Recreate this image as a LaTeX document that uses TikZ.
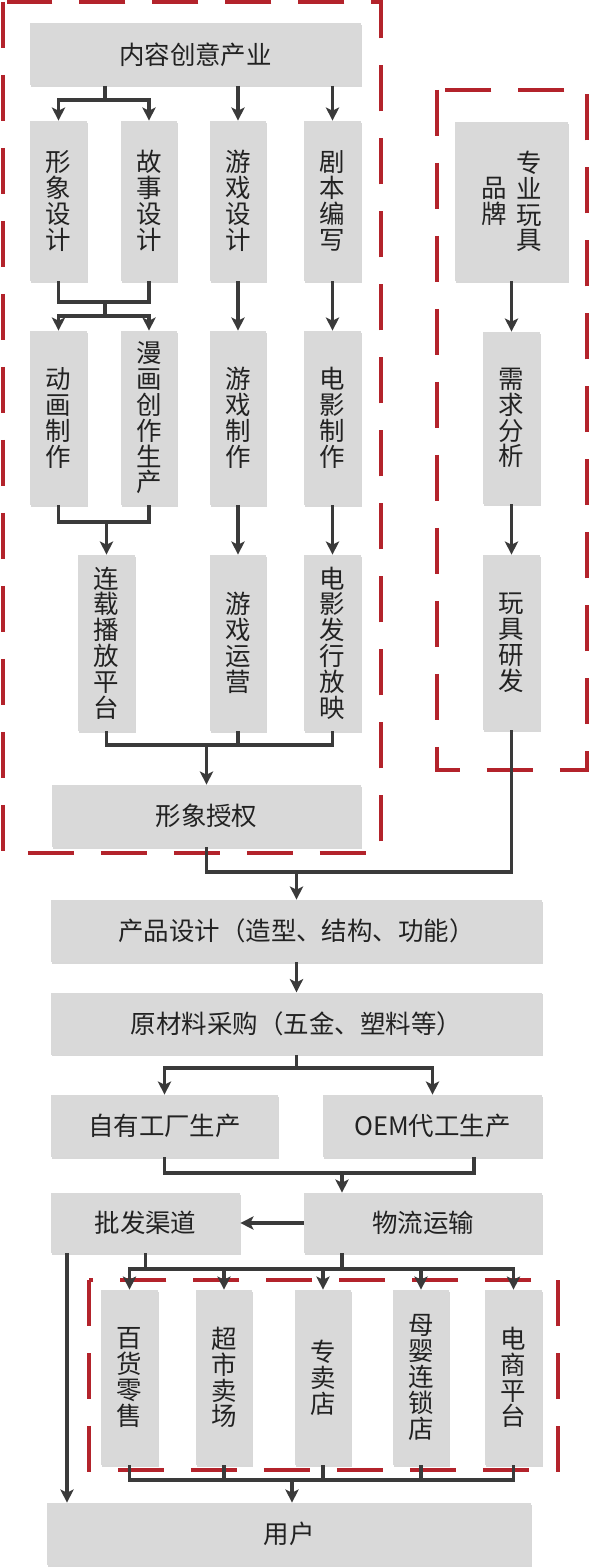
\documentclass[tikz,border=0pt]{standalone}
\usepackage{fontspec}
\setmainfont{Noto Sans CJK SC}
\usetikzlibrary{positioning}
\usetikzlibrary{calc}
\usetikzlibrary{shadows}
\usetikzlibrary{arrows.meta}
\definecolor{boxgray}{HTML}{D9D9D9}
\definecolor{txt}{HTML}{222222}
\definecolor{lncol}{HTML}{3A3A3A}
\definecolor{grpred}{HTML}{B3232B}
\newcommand{\zh}{\fontsize{14.5}{14.7}\selectfont}
\tikzset{bx/.style={fill=boxgray,text=txt,font=\zh,inner sep=0pt,drop shadow={shadow xshift=0.7pt,shadow yshift=-0.9pt,opacity=0.3}}}
\tikzset{vb/.style={bx,minimum width=1.13cm,align=center}}
\tikzset{hb/.style={bx,minimum height=1.24cm}}
\tikzset{ln/.style={draw=lncol,line width=1.8pt}}
\tikzset{grp/.style={draw=grpred,line width=2.2pt,dash pattern=on 0.92cm off 0.54cm}}
\tikzset{>={Stealth[length=7.5pt,width=7.5pt,inset=1.8pt]}}

\begin{document}
\begin{tikzpicture}[x=0.02cm,y=-0.02cm]
\path[use as bounding box,fill=white] (0,0) rectangle (592,1567);

\draw[grp] (3,2) rectangle (381,853);
\draw[grp] (437,90) rectangle (587,770);
\draw[grp] (89,1280) rectangle (558,1470);

\node[hb,minimum width=6.62cm] (nr) at (195.5,54.5) {内容创意产业};
\node[vb,minimum height=3.2cm] (xx) at (58.5,201) {形\\象\\设\\计};
\node[vb,minimum height=3.2cm] (gs) at (149,201) {故\\事\\设\\计};
\node[vb,minimum height=3.2cm] (yx) at (238,201) {游\\戏\\设\\计};
\node[vb,minimum height=3.2cm] (jb) at (332.5,201) {剧\\本\\编\\写};

\node[vb,minimum height=3.48cm] (dh) at (58.5,418) {动\\画\\制\\作};
\node[vb,minimum height=3.48cm] (mh) at (149,418) {漫\\画\\创\\作\\生\\产};
\node[vb,minimum height=3.48cm] (yz) at (238,418) {游\\戏\\制\\作};
\node[vb,minimum height=3.48cm] (dz) at (332.5,418) {电\\影\\制\\作};

\node[vb,minimum height=3.52cm] (lz) at (106.5,643) {连\\载\\播\\放\\平\\台};
\node[vb,minimum height=3.52cm] (yy) at (238,643) {游\\戏\\运\\营};
\node[vb,minimum height=3.52cm] (df) at (332.5,643) {电\\影\\发\\行\\放\\映};

\node[hb,minimum width=6.18cm] (xs) at (206.5,816) {形象授权};

\node[bx,minimum width=2.26cm,minimum height=3.18cm] (zp) at (511.5,201.5)
  {\parbox[c]{1em}{\centering 品\\牌}\hspace{0.37em}\parbox[c]{1em}{\centering 专\\业\\玩\\具}};
\node[vb,minimum height=3.44cm] (xq) at (511.5,418) {需\\求\\分\\析};
\node[vb,minimum height=3.5cm] (wj) at (511.5,642.5) {玩\\具\\研\\发};

\node[hb,minimum width=9.82cm] (cp) at (296.5,931) {产品设计（造型、结构、功能）};
\node[hb,minimum width=9.82cm] (yl) [below=0.6cm of cp] {原材料采购（五金、塑料等）};
\node[hb,minimum width=4.54cm] (zy) at (164.5,1126) {自有工厂生产};
\node[hb,minimum width=4.38cm] (oem) at (432.5,1126) {OEM代工生产};
\node[hb,minimum width=3.78cm,minimum height=1.2cm] (pf) at (145.5,1223) {批发渠道};
\node[hb,minimum width=4.76cm,minimum height=1.2cm] (wl) at (423,1223) {物流运输};

\node[vb,minimum height=3.5cm] (bh) at (129.5,1377.5) {百\\货\\零\\售};
\node[vb,minimum height=3.5cm] (cs) at (224,1377.5) {超\\市\\卖\\场};
\node[vb,minimum height=3.5cm] (zm) at (323,1377.5) {专\\卖\\店};
\node[vb,minimum height=3.5cm] (my) at (421,1377.5) {母\\婴\\连\\锁\\店};
\node[vb,minimum height=3.5cm] (ds) at (513.5,1377.5) {电\\商\\平\\台};
\node[hb,minimum width=9.68cm] (yh) at (289,1534) {用户};

\coordinate (j0) at (105,100);
\draw[ln] (nr.south -| j0) -- (j0);
\draw[ln,->] (j0) -| (xx.north);
\draw[ln,->] (j0) -| (gs.north);
\draw[ln,->] (nr.south -| yx.north) -- (yx.north);
\draw[ln,->] (nr.south -| jb.north) -- (jb.north);

\coordinate (j1) at (105,302);
\coordinate (j2) at (105,316);
\draw[ln] (xx.south) |- (j1) -| (gs.south);
\draw[ln] (j1) -- (j2);
\draw[ln,->] (j2) -| (dh.north);
\draw[ln,->] (j2) -| (mh.north);
\draw[ln,->] (yx) -- (yz);
\draw[ln,->] (jb) -- (dz);

\coordinate (j3) at (106.5,522);
\draw[ln] (dh.south) |- (j3) -| (mh.south);
\draw[ln,->] (j3) -- (lz.north);
\draw[ln,->] (yz) -- (yy);
\draw[ln,->] (dz) -- (df);

\coordinate (j4) at (206.5,745);
\draw[ln] (lz.south) |- (j4) -| (df.south);
\draw[ln] (yy.south) -- (yy.south |- j4);
\draw[ln,->] (j4) -- (xs.north);

\draw[ln,->] (zp) -- (xq);
\draw[ln,->] (xq) -- (wj);

\coordinate (j5) at (296.5,872);
\draw[ln] (xs.south) |- (j5) -| (wj.south);
\draw[ln,->] (j5) -- (cp.north);
\draw[ln,->] (cp) -- (yl);

\coordinate (j6) at (296.5,1068);
\draw[ln] (yl.south) -- (j6);
\draw[ln,->] (j6) -| (zy.north);
\draw[ln,->] (j6) -| (oem.north);

\coordinate (j7) at (342,1173);
\draw[ln] (zy.south) |- (j7) -| ($(oem.south)+(41.5,0)$);
\draw[ln,->] (j7) -- (j7 |- wl.north);
\draw[ln,->] (wl) -- (pf);

\coordinate (j8) at (342,1269);
\draw[ln] (wl.south -| j8) -- (j8);
\draw[ln] (pf.south) -- (pf.south |- j8);
\foreach \n in {bh,cs,zm,my,ds}
  \draw[ln,->] (j8) -| (\n.north);

\coordinate (j9) at (292,1480);
\foreach \n in {bh,cs,zm,my,ds}
  \draw[ln] (\n.south) |- (j9);
\draw[ln,->] (j9) -- (j9 |- yh.north);

\coordinate (j10) at (67,1253);
\draw[ln,->] (pf.south -| j10) -- (j10 |- yh.north);

\end{tikzpicture}
\end{document}
